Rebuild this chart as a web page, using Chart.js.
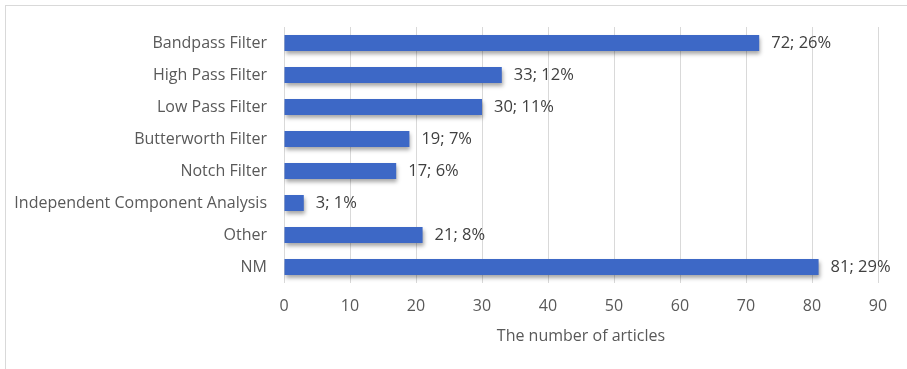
<!DOCTYPE html>
<html>
<head>
<meta charset="utf-8">
<script src="https://cdn.jsdelivr.net/npm/chart.js@4.4.1/dist/chart.umd.min.js"></script>
<style>
  html, body { margin: 0; padding: 0; background: #fff; }
  #frame {
    position: absolute; left: 5px; top: 5px; width: 960px; height: 420px;
    border-top: 1px solid #d9d9d9; border-left: 1px solid #d9d9d9;
  }
  #wrap { position: absolute; left: 0; top: 0; width: 907px; height: 369px; }
</style>
</head>
<body>
<div id="frame"></div>
<div id="wrap"><canvas id="c" width="907" height="369"></canvas></div>
<script>
// Filtering methods reported across the reviewed articles
const categories = [
  'Bandpass Filter',
  'High Pass Filter',
  'Low Pass Filter',
  'Butterworth Filter',
  'Notch Filter',
  'Independent Component Analysis',
  'Other',
  'NM'
];
const articleCounts = [72, 33, 30, 19, 17, 3, 21, 81];
const percentShares = [26, 12, 11, 7, 6, 1, 8, 29];
const xTicks = [0, 10, 20, 30, 40, 50, 60, 70, 80, 90];

const FONT = '"Open Sans", Lato, sans-serif';
const TEXT_GRAY = '#595959';

// Soft drop shadow under the bars
const barShadow = {
  id: 'barShadow',
  beforeDatasetsDraw(chart) {
    const ctx = chart.ctx;
    ctx.save();
    ctx.shadowColor = 'rgba(0,0,0,0.35)';
    ctx.shadowBlur = 4;
    ctx.shadowOffsetX = 1;
    ctx.shadowOffsetY = 3;
  },
  afterDatasetsDraw(chart) {
    chart.ctx.restore();
  }
};

// "count; share%" labels at the end of each bar
const endLabels = {
  id: 'endLabels',
  afterDatasetsDraw(chart) {
    const ctx = chart.ctx;
    const meta = chart.getDatasetMeta(0);
    ctx.save();
    ctx.font = '16.5px ' + FONT;
    ctx.fillStyle = '#404040';
    ctx.textAlign = 'left';
    ctx.textBaseline = 'middle';
    meta.data.forEach((bar, i) => {
      ctx.fillText(articleCounts[i] + '; ' + percentShares[i] + '%', bar.x + 12, bar.y);
    });
    ctx.restore();
  }
};

function barFill(context) {
  const chart = context.chart;
  const el = context.element;
  if (!el || el.y === undefined) return '#3d68c6';
  const h = el.height || 16;
  const g = chart.ctx.createLinearGradient(0, el.y - h / 2, 0, el.y + h / 2);
  g.addColorStop(0, '#4a79d4');
  g.addColorStop(0.5, '#3c68c8');
  g.addColorStop(1, '#2f59b6');
  return g;
}

new Chart(document.getElementById('c'), {
  type: 'bar',
  data: {
    labels: categories,
    datasets: [{
      data: articleCounts,
      backgroundColor: barFill,
      borderWidth: 0,
      barPercentage: 0.5,
      categoryPercentage: 1.0
    }]
  },
  options: {
    indexAxis: 'y',
    responsive: false,
    animation: false,
    events: [],
    layout: { padding: { top: 27, right: 29, left: 0, bottom: 0 } },
    plugins: { legend: { display: false }, tooltip: { enabled: false } },
    scales: {
      x: {
        min: 0,
        max: 90,
        afterBuildTicks(scale) { scale.ticks = xTicks.map(v => ({ value: v })); },
        afterFit(scale) { scale.height = 86; },
        grid: { color: '#d9d9d9', lineWidth: 1, drawTicks: false },
        border: { display: false },
        ticks: {
          padding: 14,
          color: TEXT_GRAY,
          font: { family: FONT, size: 16 }
        },
        title: {
          display: true,
          text: 'The number of articles',
          color: TEXT_GRAY,
          font: { family: FONT, size: 16 },
          padding: { top: 4, bottom: 23 }
        }
      },
      y: {
        afterFit(scale) { scale.width = 284; },
        grid: { display: false, drawTicks: false },
        border: { display: false },
        ticks: {
          padding: 17,
          color: TEXT_GRAY,
          font: { family: FONT, size: 16 }
        }
      }
    }
  },
  plugins: [barShadow, endLabels]
});
</script>
</body>
</html>
